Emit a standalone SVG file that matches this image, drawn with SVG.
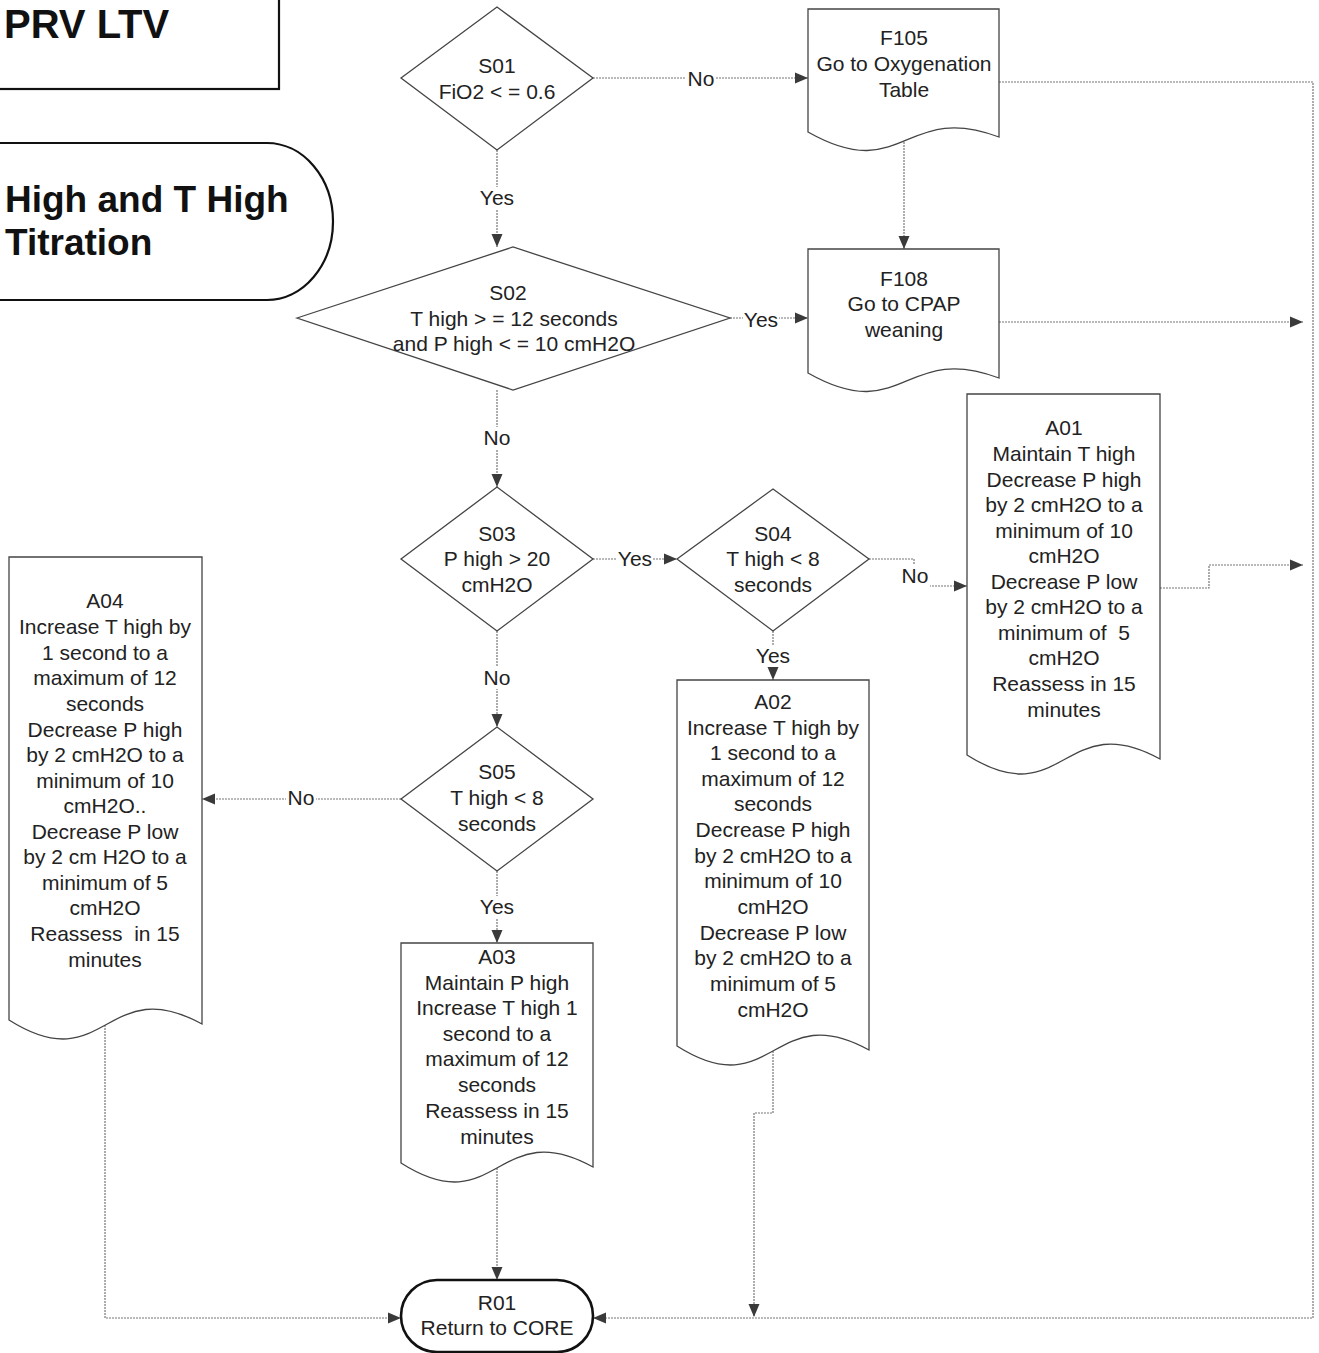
<svg xmlns="http://www.w3.org/2000/svg" width="1319" height="1353" viewBox="0 0 1319 1353">
<defs>
<marker id="arr" markerUnits="userSpaceOnUse" markerWidth="14" markerHeight="14" viewBox="0 0 14 14" refX="13" refY="7" orient="auto">
<path d="M0,1.5 L13,7 L0,12.5 Z" fill="#3a3a3a"/>
</marker>
</defs>
<style>
.shape{fill:#fff;stroke:#444;stroke-width:1.3}
.bold{fill:#fff;stroke:#111;stroke-width:2.2}
.conn{fill:none;stroke:#777;stroke-width:1.2;stroke-dasharray:2 1;marker-end:url(#arr)}
text{font-family:"Liberation Sans",Arial,sans-serif;font-size:21px;fill:#222;text-anchor:middle}
.title{font-weight:bold;font-size:37px;fill:#111;text-anchor:start}
.lbg{fill:#fff}
</style>
<rect width="1319" height="1353" fill="#fff"/>

<g id="connectors">
<path class="conn" d="M593,78 H808"/>
<path class="conn" d="M497,150 V247"/>
<path class="conn" d="M904,142 V249"/>
<path class="conn" d="M999,82 H1313 V1318 H593"/>
<path class="conn" d="M730,318 H808"/>
<path class="conn" d="M999,322 H1303"/>
<path class="conn" d="M497,390 V487"/>
<path class="conn" d="M593,559 H677"/>
<path class="conn" d="M869,559 H914 V586 H967"/>
<path class="conn" d="M1160,588 H1209 V565 H1303"/>
<path class="conn" d="M497,631 V727"/>
<path class="conn" d="M773,631 V680"/>
<path class="conn" d="M401,799 H202"/>
<path class="conn" d="M497,871 V943"/>
<path class="conn" d="M497,1168 V1280"/>
<path class="conn" d="M105,1025 V1318 H401"/>
<path class="conn" d="M773,1051 V1113 H754 V1317"/>
<g id="labels">
<rect class="lbg" x="686" y="68" width="30" height="22"/><text x="701" y="86">No</text>
<rect class="lbg" x="479" y="187" width="36" height="22"/><text x="497" y="205">Yes</text>
<rect class="lbg" x="743" y="309" width="36" height="22"/><text x="761" y="327">Yes</text>
<rect class="lbg" x="482" y="427" width="30" height="22"/><text x="497" y="445">No</text>
<rect class="lbg" x="617" y="548" width="36" height="22"/><text x="635" y="566">Yes</text>
<rect class="lbg" x="900" y="565" width="30" height="22"/><text x="915" y="583">No</text>
<rect class="lbg" x="755" y="645" width="36" height="22"/><text x="773" y="663">Yes</text>
<rect class="lbg" x="482" y="667" width="30" height="22"/><text x="497" y="685">No</text>
<rect class="lbg" x="286" y="787" width="30" height="22"/><text x="301" y="805">No</text>
<rect class="lbg" x="479" y="896" width="36" height="22"/><text x="497" y="914">Yes</text>
</g>
</g>

<g id="title">
<rect class="bold" x="-3" y="-3" width="282" height="92"/>
<text class="title" x="4" y="38" style="font-size:40px">PRV LTV</text>
</g>

<g id="header">
<path class="bold" d="M-3,143 H267 A66,78.5 0 0 1 267,300 H-3 Z"/>
<text class="title" x="5" y="212">High and T High</text>
<text class="title" x="5" y="255">Titration</text>
</g>

<g id="S01">
<path class="shape" d="M401,78 L497,7 L593,78 L497,150 Z"/>
<text x="497" y="73">S01</text>
<text x="497" y="99">FiO2 &lt; = 0.6</text>
</g>

<g id="F105">
<path class="shape" d="M808,9 H999 V137 C903.5,101 903.5,186 808,132 Z"/>
<text x="904" y="45">F105</text>
<text x="904" y="71">Go to Oxygenation</text>
<text x="904" y="97">Table</text>
</g>

<g id="S02">
<path class="shape" d="M297,318 L513,247 L730,318 L513,390 Z"/>
<text x="508" y="300">S02</text>
<text x="514" y="326">T high &gt; = 12 seconds</text>
<text x="514" y="351">and P high &lt; = 10 cmH2O</text>
</g>

<g id="F108">
<path class="shape" d="M808,249 H999 V378 C903.5,342 903.5,427 808,373 Z"/>
<text x="904" y="286">F108</text>
<text x="904" y="311">Go to CPAP</text>
<text x="904" y="337">weaning</text>
</g>

<g id="S03">
<path class="shape" d="M401,559 L497,487 L593,559 L497,631 Z"/>
<text x="497" y="541">S03</text>
<text x="497" y="566">P high &gt; 20</text>
<text x="497" y="592">cmH2O</text>
</g>

<g id="S04">
<path class="shape" d="M677,559 L773,489 L869,559 L773,631 Z"/>
<text x="773" y="541">S04</text>
<text x="773" y="566">T high &lt; 8</text>
<text x="773" y="592">seconds</text>
</g>

<g id="A01">
<path class="shape" d="M967,394 H1160 V759 C1063.5,706 1063.5,816 967,755 Z"/>
<text x="1064" y="435">A01</text>
<text x="1064" y="461">Maintain T high</text>
<text x="1064" y="487">Decrease P high</text>
<text x="1064" y="512">by 2 cmH2O to a</text>
<text x="1064" y="538">minimum of 10</text>
<text x="1064" y="563">cmH2O</text>
<text x="1064" y="589">Decrease P low</text>
<text x="1064" y="614">by 2 cmH2O to a</text>
<text x="1064" y="640" xml:space="preserve">minimum of  5</text>
<text x="1064" y="665">cmH2O</text>
<text x="1064" y="691">Reassess in 15</text>
<text x="1064" y="717">minutes</text>
</g>

<g id="S05">
<path class="shape" d="M401,799 L497,727 L593,799 L497,871 Z"/>
<text x="497" y="779">S05</text>
<text x="497" y="805">T high &lt; 8</text>
<text x="497" y="831">seconds</text>
</g>

<g id="A02">
<path class="shape" d="M677,680 H869 V1050 C773,997 773,1107 677,1046 Z"/>
<text x="773" y="709">A02</text>
<text x="773" y="735">Increase T high by</text>
<text x="773" y="760">1 second to a</text>
<text x="773" y="786">maximum of 12</text>
<text x="773" y="811">seconds</text>
<text x="773" y="837">Decrease P high</text>
<text x="773" y="863">by 2 cmH2O to a</text>
<text x="773" y="888">minimum of 10</text>
<text x="773" y="914">cmH2O</text>
<text x="773" y="940">Decrease P low</text>
<text x="773" y="965">by 2 cmH2O to a</text>
<text x="773" y="991">minimum of 5</text>
<text x="773" y="1017">cmH2O</text>
</g>

<g id="A03">
<path class="shape" d="M401,943 H593 V1167 C497,1114 497,1224 401,1163 Z"/>
<text x="497" y="964">A03</text>
<text x="497" y="990">Maintain P high</text>
<text x="497" y="1015">Increase T high 1</text>
<text x="497" y="1041">second to a</text>
<text x="497" y="1066">maximum of 12</text>
<text x="497" y="1092">seconds</text>
<text x="497" y="1118">Reassess in 15</text>
<text x="497" y="1144">minutes</text>
</g>

<g id="A04">
<path class="shape" d="M9,557 H202 V1024 C105.5,971 105.5,1081 9,1020 Z"/>
<text x="105" y="608">A04</text>
<text x="105" y="634">Increase T high by</text>
<text x="105" y="660">1 second to a</text>
<text x="105" y="685">maximum of 12</text>
<text x="105" y="711">seconds</text>
<text x="105" y="737">Decrease P high</text>
<text x="105" y="762">by 2 cmH2O to a</text>
<text x="105" y="788">minimum of 10</text>
<text x="105" y="813">cmH2O..</text>
<text x="105" y="839">Decrease P low</text>
<text x="105" y="864">by 2 cm H2O to a</text>
<text x="105" y="890">minimum of 5</text>
<text x="105" y="915">cmH2O</text>
<text x="105" y="941" xml:space="preserve">Reassess  in 15</text>
<text x="105" y="967">minutes</text>
</g>

<g id="R01">
<rect class="bold" x="401" y="1280" width="192" height="72" rx="36" ry="36" style="stroke-width:2.6"/>
<text x="497" y="1310">R01</text>
<text x="497" y="1335">Return to CORE</text>
</g>
</svg>
